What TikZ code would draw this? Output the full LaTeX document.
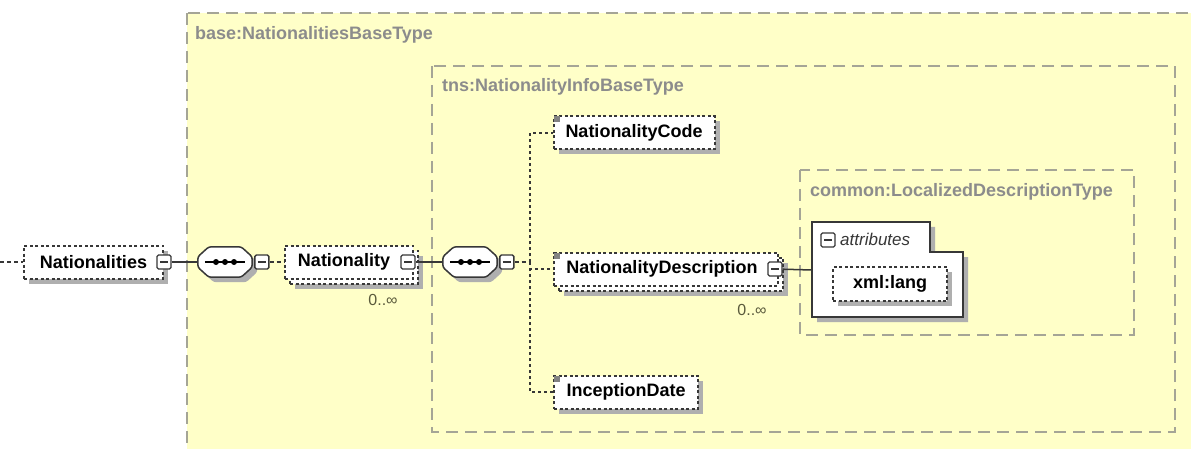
\documentclass[tikz,border=0pt]{standalone}
\usepackage{fontspec}
\setmainfont{Liberation Sans}
\usetikzlibrary{shadows}

\definecolor{typeyellow}{RGB}{255,255,200}
\definecolor{typeedge}{RGB}{165,165,150}
\definecolor{typetext}{RGB}{140,140,140}
\definecolor{edgegray}{RGB}{55,55,55}
\definecolor{shadegray}{RGB}{175,175,175}
\definecolor{markgray}{RGB}{130,130,130}
\definecolor{multtext}{RGB}{90,90,60}

\tikzset{
  typebox/.style={draw=typeedge, fill=typeyellow, line width=2.5pt, dash pattern=on 12pt off 7pt},
  typelabel/.style={anchor=west, text=typetext, inner sep=0pt, font=\bfseries\fontsize{18}{20}\selectfont},
  elem/.style={draw=edgegray, fill=white, line width=2pt, dash pattern=on 3pt off 2.5pt,
    minimum height=33pt, inner sep=0pt, font=\bfseries\fontsize{18}{20}\selectfont},
  one/.style={elem, drop shadow={shadow xshift=5pt, shadow yshift=-5pt, fill=shadegray, opacity=1}},
  many/.style={elem, drop shadow={shadow xshift=10pt, shadow yshift=-10pt, fill=shadegray, opacity=1},
    general shadow={shadow xshift=5pt, shadow yshift=-5pt, draw=edgegray, fill=white,
      line width=2pt, dash pattern=on 3pt off 2.5pt}},
  collapse/.style={draw=edgegray, fill=white, line width=1.3pt, rounded corners=1.5pt,
    minimum width=14pt, minimum height=14pt, inner sep=0pt,
    path picture={\draw[edgegray, line width=1.3pt] ([xshift=3pt]path picture bounding box.west) -- ([xshift=-3pt]path picture bounding box.east);}},
  seq/.style={minimum width=54pt, minimum height=30pt, inner sep=0pt},
  seqline/.style={draw=edgegray, fill=white, line width=1.5pt, rounded corners=2.5pt,
    drop shadow={shadow xshift=5pt, shadow yshift=-5pt, fill=shadegray, opacity=1}},
  mult/.style={text=multtext, inner sep=0pt, font=\fontsize{16}{18}\selectfont},
  solidline/.style={draw=edgegray, line width=1.5pt},
  dashline/.style={draw=edgegray, line width=1.5pt, dash pattern=on 4pt off 3pt},
  dotline/.style={draw=edgegray, line width=1.5pt, dash pattern=on 3pt off 3pt}
}

% octagon of a sequence compositor, with its line and dots
\newcommand{\seqshape}[1]{%
  \draw[seqline] ([xshift=11pt]#1.north west) -- ([xshift=-11pt]#1.north east)
    -- ([yshift=-10pt]#1.north east) -- ([yshift=10pt]#1.south east)
    -- ([xshift=-11pt]#1.south east) -- ([xshift=11pt]#1.south west)
    -- ([yshift=10pt]#1.south west) -- ([yshift=-10pt]#1.north west) -- cycle;
  \draw[line width=1.5pt] ([xshift=7pt]#1.west) -- ([xshift=-7pt]#1.east);
  \foreach \d in {-9,0,9} \fill ([xshift=\d pt]#1.center) circle (3);
}

\begin{document}
\begin{tikzpicture}[x=1pt,y=-1pt]
\useasboundingbox (0,0) rectangle (1191,449);

%type boxes
\draw[typebox] (187,13) rectangle (1200,460);
\node[typelabel] (baseT) at (195,35) {base:NationalitiesBaseType};
\draw[typebox] (432,66) rectangle (1175,432);
\node[typelabel] (tnsT) at (442,87) {tns:NationalityInfoBaseType};
\draw[typebox] (800,170) rectangle (1134,335);
\node[typelabel] (commonT) at (810,192) {common:LocalizedDescriptionType};

%root element
\coordinate (entry) at (0,262);
\node[one, minimum width=139pt] (nats) at (93.5,262) {Nationalities};
\node[collapse] (natsC) at (nats.east) {};
\draw[dashline] (entry) -- (nats);

%outer sequence
\node[seq] (seqA) at (225,262) {};
\seqshape{seqA}
\node[collapse, anchor=west] (seqAC) at ([xshift=2pt]seqA.east) {};

\node[many, minimum width=128pt] (nat) at (349,262) {Nationality\hspace*{10pt}};
\node[collapse] (natC) at ([xshift=-6pt]nat.east) {};
\node[mult] (natM) at (383,300) {0..∞};

%inner sequence
\node[seq] (seqB) at (470,262) {};
\seqshape{seqB}
\node[collapse, anchor=west] (seqBC) at ([xshift=2pt]seqB.east) {};
\coordinate (split) at (530,262);

%children
\node[one, minimum width=161pt] (code) at (634,133) {NationalityCode};
\node[many, minimum width=224pt] (desc) at (666,269) {NationalityDescription\hspace*{8pt}};
\node[collapse] (descC) at ([xshift=-4pt]desc.east) {};
\node[mult] (descM) at (752,310) {0..∞};
\node[one, minimum width=144pt] (incep) at (626,392) {InceptionDate};
\foreach \n in {code,desc,incep}
  \fill[markgray] ([xshift=1pt,yshift=-1pt]\n.north west) rectangle ++(6,6);

%attributes
\draw[draw=edgegray, fill=white, line width=1.8pt,
  drop shadow={shadow xshift=5pt, shadow yshift=-5pt, fill=shadegray, opacity=1}]
  (812,317) -- (812,222) -- (930,222) -- (930,252) -- (963,252) -- (963,317) -- cycle;
\coordinate (attrIn) at (812,270);
\node[collapse] (attrC) at (828,240) {};
\node[anchor=west, inner sep=0pt, text=edgegray, font=\itshape\fontsize{17}{19}\selectfont] (attrT) at (840,239) {attributes};
\node[one, minimum width=114pt, minimum height=34pt] (lang) at (890,284) {xml:lang};

%connectors
\draw[solidline] (natsC) -- (seqA);
\draw[dashline] (seqAC) -- (nat);
\draw[solidline] (natC) -- (seqB);
\draw[dashline] (seqBC) -- (split);
\draw[dotline] (split) |- (code);
\draw[dotline] (split) |- (desc);
\draw[dotline] (split) |- (incep);
\draw[solidline] (descC) -- (attrIn);
\end{tikzpicture}
\end{document}
